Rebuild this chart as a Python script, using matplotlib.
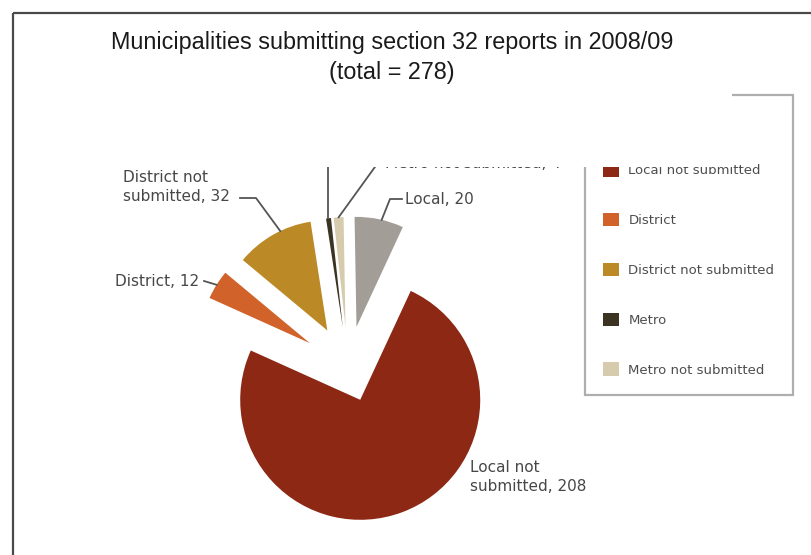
import matplotlib
matplotlib.use("agg")
import matplotlib.pyplot as plt
from matplotlib.patches import Rectangle
import numpy as np

# municipalities by type and submission status, 2008/09
categories = ["Local", "Local not submitted", "District",
              "District not submitted", "Metro", "Metro not submitted"]
counts = [20, 208, 12, 32, 2, 4]
slice_labels = ["Local, 20", "Local not\nsubmitted, 208", "District, 12",
                "District not\nsubmitted, 32", "Metro, 2", "Metro not submitted, 4"]
colors = ["#a29d97", "#8c2814", "#d0622a", "#bb8a26", "#3b3423", "#d6cbad"]
explode = [41, 35, 45, 42, 40, 40]
total = sum(counts)

fig = plt.figure(figsize=(8.11, 5.55), dpi=100)
ax = fig.add_axes([0, 0, 1, 1])

# axes work in pixel units with y pointing down
wedges, _ = ax.pie(counts, colors=colors, explode=explode, radius=110,
                   center=(348, 367), startangle=-91, counterclock=True,
                   wedgeprops=dict(linewidth=0))
wedges[1].set_radius(120)
ax.set_xlim(0, 811)
ax.set_ylim(555, 0)
ax.set_aspect("auto")
ax.axis("off")


def rim(w, frac=0.5):
    a = np.deg2rad(w.theta1 + frac * (w.theta2 - w.theta1))
    cx, cy = w.center
    return cx + w.r * np.cos(a), cy + w.r * np.sin(a)


lab_kw = dict(fontsize=11, color="#474747", va="center", ha="left", linespacing=1.4)
line_kw = dict(color="#555555", lw=1.3, zorder=2)

# Local
x, y = rim(wedges[0], 0.55)
ax.plot([x, 390, 402], [y, 199, 199], **line_kw)
ax.text(405, 199, slice_labels[0], **lab_kw)
# Local not submitted
ax.text(470, 477, slice_labels[1], **lab_kw)
# District
x, y = rim(wedges[2])
ax.plot([x, 204], [y, 281], **line_kw)
ax.text(115, 281, slice_labels[2], **lab_kw)
# District not submitted
x, y = rim(wedges[3], 0.6)
ax.plot([x, 256, 240], [y, 198, 198], **line_kw)
ax.text(123, 187, slice_labels[3], **lab_kw)
# Metro
x, y = rim(wedges[4])
ax.plot([x, x], [y, 140], **line_kw)
ax.text(300, 130, slice_labels[4], **lab_kw)
# Metro not submitted
x, y = rim(wedges[5])
ax.plot([x, 380], [y, 160], **line_kw)
ax.text(385, 164, slice_labels[5], **lab_kw)

leg = ax.legend(wedges, categories, loc="upper left",
                bbox_to_anchor=(585 / 811, 1 - 395 / 555, 208 / 811, 300 / 555),
                bbox_transform=fig.transFigure, mode="expand",
                fontsize=9.5, labelcolor="#4d4d4d", frameon=True, fancybox=False,
                edgecolor="#9a9a9a", handlelength=1.2, handleheight=1.2,
                handletextpad=0.7, labelspacing=2.7, borderpad=1.38,
                borderaxespad=0)
leg.get_frame().set_linewidth(1.6)
leg.set_zorder(3)

# white heading panel laid over the chart
ax.add_patch(Rectangle((13, 13), 719, 154, facecolor="white", edgecolor="none", zorder=10))
ax.plot([13, 13], [13, 555], color="#4a4a4a", lw=1.6, zorder=11, solid_capstyle="butt")
ax.plot([13, 811], [13, 13], color="#4a4a4a", lw=1.6, zorder=11, solid_capstyle="butt")

title_kw = dict(ha="center", va="center", fontsize=16.8, color="#1a1a1a", zorder=12,
                family="Liberation Sans")
ax.text(392, 43, "Municipalities submitting section 32 reports in 2008/09", **title_kw)
ax.text(392, 73, f"(total = {total})", **title_kw)

plt.savefig("out.png", dpi=100)
